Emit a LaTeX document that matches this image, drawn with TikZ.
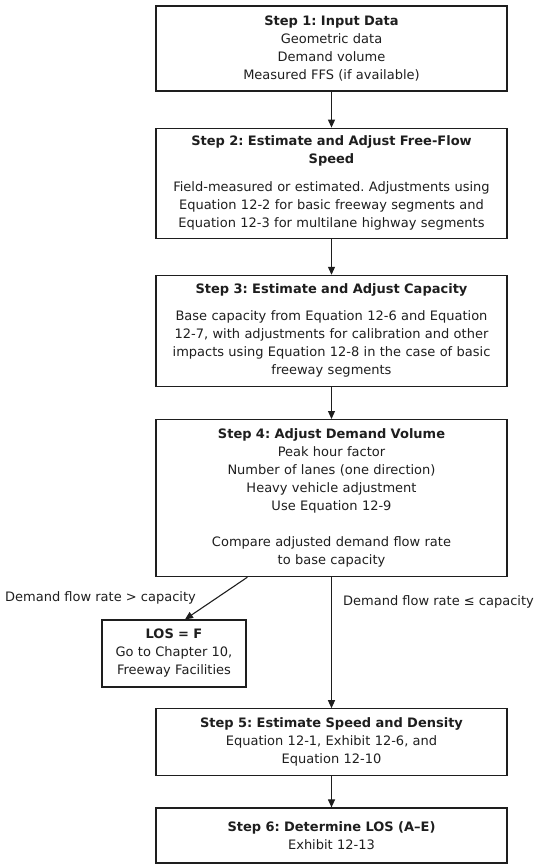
\documentclass[tikz,border=0pt]{standalone}
\usepackage{fontspec}
\setmainfont{DejaVu Sans}
\frenchspacing
\usetikzlibrary{arrows.meta,positioning,calc}
\definecolor{InkGray}{RGB}{30,30,30}
\tikzset{
  stepbox/.style={draw=InkGray,line width=1.2pt,text=InkGray,inner sep=0pt,
    text width=351pt,align=center,font=\fontsize{13}{18}\selectfont},
  losbox/.style={stepbox,text width=144pt},
  branch/.style={text=InkGray,inner sep=0pt,font=\fontsize{13}{18}\selectfont},
  arrow/.style={-{Triangle[length=8pt,width=7pt]},line width=1.1pt,InkGray}
}

\begin{document}
\begin{tikzpicture}[x=1pt,y=1pt,node distance=36pt]
  \useasboundingbox (0,0) rectangle (555,-864);
  \node[stepbox,minimum height=85pt] (s1) at (331.5,-48.5)
    {\textbf{Step 1: Input Data}\\Geometric data\\Demand volume\\Measured FFS (if available)};
  \node[stepbox,minimum height=110pt,below=of s1] (s2)
    {\textbf{Step 2: Estimate and Adjust Free-Flow}\\\textbf{Speed}\\[10pt]
     Field-measured or estimated. Adjustments using\\Equation 12-2 for basic freeway segments and\\
     Equation 12-3 for multilane highway segments};
  \node[stepbox,minimum height=111pt,below=of s2] (s3)
    {\textbf{Step 3: Estimate and Adjust Capacity}\\[9pt]
     Base capacity from Equation 12-6 and Equation\\12-7, with adjustments for calibration and other\\
     impacts using Equation 12-8 in the case of basic\\freeway segments};
  \node[stepbox,minimum height=157pt,below=32pt of s3] (s4)
    {\textbf{Step 4: Adjust Demand Volume}\\Peak hour factor\\Number of lanes (one direction)\\
     Heavy vehicle adjustment\\Use Equation 12-9\\[18pt]
     Compare adjusted demand flow rate\\to base capacity};
  \node[losbox,minimum height=67pt] (los) at (174,-653.5)
    {\textbf{LOS = F}\\Go to Chapter 10,\\Freeway Facilities};
  \node[stepbox,minimum height=67pt,below=131pt of s4] (s5)
    {\textbf{Step 5: Estimate Speed and Density}\\Equation 12-1, Exhibit 12-6, and\\Equation 12-10};
  \node[stepbox,minimum height=55pt,below=31pt of s5] (s6)
    {\textbf{Step 6: Determine LOS (A–E)}\\Exhibit 12-13};
  \node[branch,anchor=west] (over) at (5,-598) {Demand flow rate > capacity};
  \node[branch,anchor=west] (under) at (343,-602) {Demand flow rate ≤ capacity};
  \draw[arrow] (s1) -- (s2);
  \draw[arrow] (s2) -- (s3);
  \draw[arrow] (s3) -- (s4);
  \draw[arrow] ($(s4.south west)+(92,0)$) -- ($(los.north)+(11,0)$);
  \draw[arrow] (s4) -- (s5);
  \draw[arrow] (s5) -- (s6);
\end{tikzpicture}
\end{document}
